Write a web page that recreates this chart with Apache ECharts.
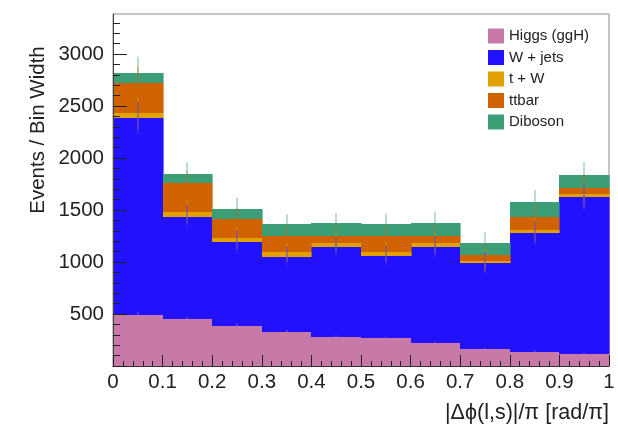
<!DOCTYPE html>
<html>
<head>
<meta charset="utf-8">
<title>dphi stack</title>
<script src="https://cdn.jsdelivr.net/npm/echarts@6/dist/echarts.min.js"></script>
<style>
  html, body { margin: 0; padding: 0; background: #fff; }
  #chart { width: 618px; height: 434px; }
</style>
</head>
<body>
<div id="chart"></div>
<script>
  // bin edges of |dphi(l,s)|/pi
  var binEdges = [0, 0.1, 0.2, 0.3, 0.4, 0.5, 0.6, 0.7, 0.8, 0.9, 1.0];

  // events / bin width (bottom of stack first)
  var higgs   = [495, 452, 388, 330, 279, 266, 218, 163, 138, 118];
  var wjets   = [1887, 983, 807, 721, 868, 792, 923, 825, 1144, 1510];
  var tW      = [48, 48, 40, 43, 39, 41, 39, 25, 26, 26];
  var ttbar   = [288, 280, 175, 159, 67, 154, 73, 51, 128, 60];
  var diboson = [96, 83, 99, 112, 119, 109, 119, 116, 138, 118];

  // error bar half lengths
  var statErr  = [160, 115, 110, 95, 96, 99, 106, 106, 118, 131];
  var higgsErr = [22, 20, 18, 16, 15, 15, 14, 12, 11, 10];

  var xTicks = [0, 0.1, 0.2, 0.3, 0.4, 0.5, 0.6, 0.7, 0.8, 0.9, 1];
  var yLabels = [500, 1000, 1500, 2000, 2500, 3000];
  var yMajorTicks = [0, 500, 1000, 1500, 2000, 2500, 3000];
  var yMinorTicks = [];
  for (var t = 100; t <= 3300; t += 100) {
    if (t % 500 !== 0) yMinorTicks.push(t);
  }
  var yMax = 3385;

  var names  = ['Higgs (ggH)', 'W + jets', 't + W', 'ttbar', 'Diboson'];
  var colors = ['#c779a7', '#2211fd', '#e3a100', '#d06200', '#3c9e76'];
  var errColors = ['rgba(199,121,167,0.4)', 'rgba(70,50,230,0.4)', 'rgba(227,161,0,0.35)',
                   'rgba(208,98,0,0.3)', 'rgba(60,158,118,0.35)'];
  var layers = [higgs, wjets, tW, ttbar, diboson];
  var layerErr = [higgsErr, statErr, statErr, statErr, statErr];

  var FONT = '"Liberation Sans", Arial, Helvetica, sans-serif';

  // stack: [x0, x1, bottom, top]
  var stacked = [];
  var base = binEdges.slice(0, -1).map(function () { return 0; });
  layers.forEach(function (vals) {
    var rows = [];
    vals.forEach(function (v, i) {
      rows.push([binEdges[i], binEdges[i + 1], base[i], base[i] + v]);
      base[i] += v;
    });
    stacked.push(rows);
  });

  function renderBin(params, api) {
    var p0 = api.coord([api.value(0), api.value(3)]);
    var p1 = api.coord([api.value(1), api.value(2)]);
    var x0 = Math.round(p0[0]), x1 = Math.round(p1[0]);
    var y0 = Math.round(p0[1]), y1 = Math.round(p1[1]);
    return {
      type: 'rect',
      shape: { x: x0, y: y0, width: x1 - x0 + 0.6, height: y1 - y0 },
      style: { fill: api.visual('color') }
    };
  }

  function renderErr(params, api) {
    var xc = (api.value(0) + api.value(1)) / 2;
    var top = api.value(3), e = api.value(4);
    var a = api.coord([xc, top + e]);
    var b = api.coord([xc, top - e]);
    var x = Math.round(a[0]);
    return {
      type: 'line',
      shape: { x1: x, y1: a[1], x2: x, y2: b[1] },
      style: { stroke: api.visual('color'), lineWidth: 2 }
    };
  }

  var series = [];
  stacked.forEach(function (rows, k) {
    series.push({
      name: names[k],
      type: 'custom',
      renderItem: renderBin,
      itemStyle: { color: colors[k] },
      encode: { x: [0, 1], y: [2, 3] },
      data: rows,
      silent: true,
      z: 2
    });
  });
  // error bars, top layers first so the lower ones lie over them
  for (var k = stacked.length - 1; k >= 0; k--) {
    series.push({
      name: 'err' + k,
      type: 'custom',
      renderItem: renderErr,
      itemStyle: { color: errColors[k] },
      encode: { x: [0, 1], y: [2, 3] },
      data: stacked[k].map(function (r, i) { return r.concat([layerErr[k][i]]); }),
      silent: true,
      z: 3
    });
  }

  var chart = echarts.init(document.getElementById('chart'), null, { renderer: 'canvas' });
  chart.setOption({
    animation: false,
    backgroundColor: '#fff',
    grid: {
      left: 113, right: 9, top: 14, bottom: 68,
      show: true, borderColor: '#8a8a8a', borderWidth: 1, backgroundColor: 'transparent'
    },
    legend: {
      data: names,
      orient: 'vertical',
      left: 488, top: 28.5, padding: 0,
      itemWidth: 16, itemHeight: 15, itemGap: 6.5,
      icon: 'rect',
      textStyle: { fontFamily: FONT, fontSize: 15, color: '#222' },
      selectedMode: false
    },
    xAxis: {
      type: 'value', min: 0, max: 1, interval: 0.1, z: 10,
      axisLine: { show: true, onZero: false, lineStyle: { color: '#333', width: 1 } },
      axisTick: { show: true, inside: true, length: 11, lineStyle: { color: '#222' } },
      minorTick: { show: true, splitNumber: 5, length: 5, lineStyle: { color: '#222' } },
      axisLabel: {
        margin: 6, fontFamily: FONT, fontSize: 20.5, color: '#222',
        customValues: xTicks,
        formatter: function (v) { return String(v); }
      },
      splitLine: { show: false }
    },
    yAxis: [{
      type: 'value', min: 0, max: yMax, interval: 500, z: 10,
      axisLine: { show: true, onZero: false, lineStyle: { color: '#444', width: 1 } },
      axisTick: { show: true, inside: true, length: 14, customValues: yMajorTicks, lineStyle: { color: '#222' } },
      axisLabel: {
        margin: 9, fontFamily: FONT, fontSize: 20.5, color: '#222', customValues: yLabels,
        formatter: function (v) { return String(v); }
      },
      splitLine: { show: false }
    }, {
      // minor ticks only
      type: 'value', min: 0, max: yMax, interval: 100, position: 'left', z: 10,
      axisLine: { show: false },
      axisTick: { show: true, inside: true, length: 7, customValues: yMinorTicks, lineStyle: { color: '#222' } },
      axisLabel: { show: false },
      splitLine: { show: false }
    }],
    graphic: [{
      type: 'text', x: 38, y: 130, rotation: Math.PI / 2,
      style: {
        text: 'Events / Bin Width', font: '20.5px ' + FONT, fill: '#222',
        align: 'center', verticalAlign: 'middle'
      }
    }, {
      type: 'text', x: 609, y: 413,
      style: {
        text: '|\u0394\u03d5(l,s)|/\u03c0 [rad/\u03c0]', font: '21.5px ' + FONT, fill: '#222',
        align: 'right', verticalAlign: 'middle'
      }
    }],
    series: series
  });
</script>
</body>
</html>
